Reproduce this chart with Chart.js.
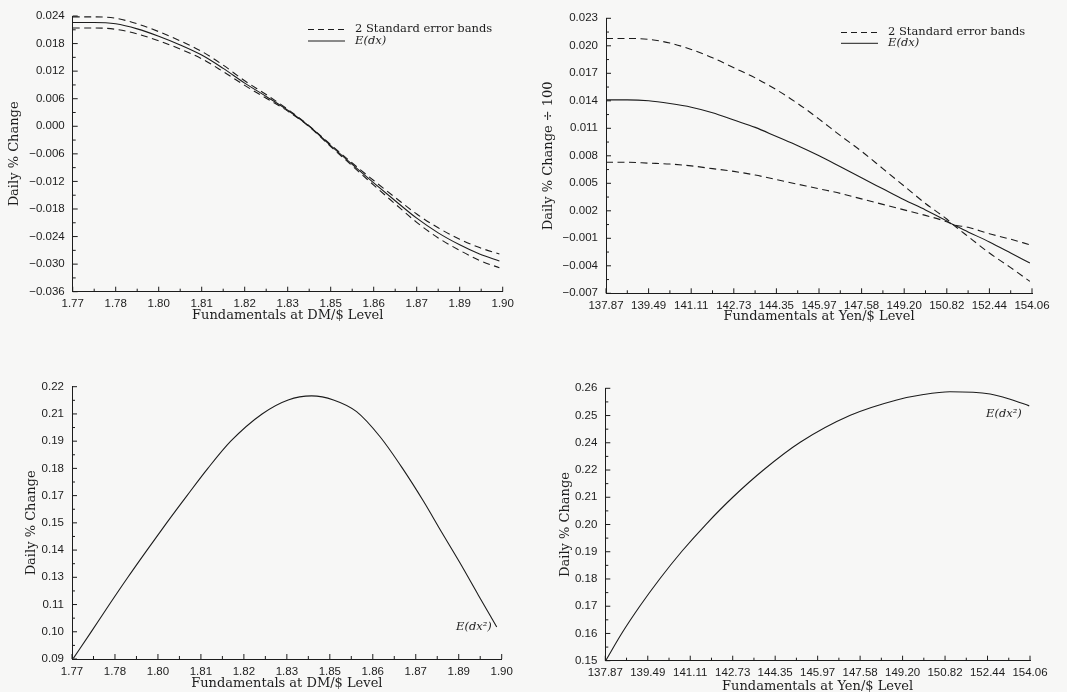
<!DOCTYPE html>
<html><head><meta charset="utf-8">
<script src="https://cdn.jsdelivr.net/npm/chart.js@4.4.0/dist/chart.umd.min.js"></script>
<style>
html,body{margin:0;padding:0;background:#f7f7f6;}
body{width:1067px;height:692px;position:relative;overflow:hidden;}
.p{position:absolute;}
</style></head><body>
<div class="p" id="w1" style="left:0;top:0;width:533px;height:332px"><canvas id="c1"></canvas></div>
<div class="p" id="w2" style="left:533px;top:0;width:534px;height:332px"><canvas id="c2"></canvas></div>
<div class="p" id="w3" style="left:0;top:346px;width:533px;height:350px"><canvas id="c3"></canvas></div>
<div class="p" id="w4" style="left:533px;top:346px;width:534px;height:350px"><canvas id="c4"></canvas></div>
<script>
// ---------- tick labels ----------
const dmTickLabels  = ['1.77','1.78','1.80','1.81','1.82','1.83','1.85','1.86','1.87','1.89','1.90'];
const yenTickLabels = ['137.87','139.49','141.11','142.73','144.35','145.97','147.58','149.20','150.82','152.44','154.06'];
const p1YLabels = ['\u22120.036','\u22120.030','\u22120.024','\u22120.018','\u22120.012','\u22120.006','0.000','0.006','0.012','0.018','0.024'];
const p2YLabels = ['\u22120.007','\u22120.004','\u22120.001','0.002','0.005','0.008','0.011','0.014','0.017','0.020','0.023'];
const p3YLabels = ['0.09','0.10','0.11','0.13','0.14','0.15','0.17','0.18','0.19','0.21','0.22'];
const p4YLabels = ['0.15','0.16','0.17','0.18','0.19','0.20','0.21','0.22','0.24','0.25','0.26'];

const dmRange = [1.77, 1.90];
const yenRange = [137.87, 154.06];
const p1Range = [-0.036, 0.024];
const p2Range = [-0.007, 0.023];
const p3Range = [0.09, 0.22];
const p4Range = [0.15, 0.26];

const xTitleDM = 'Fundamentals at DM/$ Level';
const xTitleYen = 'Fundamentals at Yen/$ Level';
const yTitle1 = 'Daily % Change';
const yTitle2 = 'Daily % Change \u00f7 100';
const legendLabels = ['2 Standard error bands', 'E(dx)'];
const curveLabel2 = 'E(dx\u00b2)';

// ---------- Panel 1: DM/$  E(dx) ----------
const dmLevels1 = [1.770,1.7765,1.783,1.7895,1.796,1.8025,1.809,1.8155,1.822,1.8285,1.835,1.8415,1.848,1.8545,1.861,1.8675,1.874,1.8805,1.887,1.893,1.899];
const dmMean1  = [0.0226,0.0226,0.0223,0.0212,0.0196,0.0177,0.0155,0.0126,0.0094,0.0065,0.0035,0.0000,-0.0042,-0.0083,-0.0123,-0.0162,-0.0200,-0.0232,-0.0258,-0.0278,-0.0293];
const dmUpper1 = [0.0238,0.0238,0.0235,0.0223,0.0206,0.0186,0.0163,0.0133,0.0099,0.0069,0.0037,0.0001,-0.0040,-0.0080,-0.0118,-0.0155,-0.0191,-0.0221,-0.0246,-0.0264,-0.0278];
const dmLower1 = [0.0214,0.0214,0.0211,0.0201,0.0186,0.0168,0.0147,0.0119,0.0089,0.0061,0.0033,-0.0001,-0.0044,-0.0086,-0.0128,-0.0169,-0.0209,-0.0243,-0.0270,-0.0292,-0.0308];

// ---------- Panel 2: Yen/$  E(dx) ----------
const yenLevels2 = [137.87,138.68,139.49,140.30,141.11,141.92,142.73,143.54,144.35,145.16,145.97,146.78,147.58,148.39,149.20,150.01,150.82,151.06,151.63,152.44,153.25,153.98];
const yenMean2  = [0.0141,0.0141,0.0140,0.0137,0.0133,0.0127,0.0119,0.0111,0.0101,0.0091,0.0080,0.0068,0.0056,0.0044,0.0032,0.0021,0.0009,0.0005,-0.0003,-0.0014,-0.0026,-0.0037];
const yenUpper2 = [0.0208,0.0208,0.0207,0.0203,0.0196,0.0187,0.0176,0.0165,0.0152,0.0137,0.0120,0.0102,0.0085,0.0066,0.0047,0.0028,0.0011,0.0005,-0.0008,-0.0026,-0.0042,-0.0057];
const yenLower2 = [0.0073,0.0073,0.0072,0.0071,0.0069,0.0066,0.0063,0.0059,0.0054,0.0049,0.0044,0.0039,0.0033,0.0027,0.0021,0.0015,0.0008,0.0005,0.0002,-0.0005,-0.0011,-0.0017];

// ---------- Panel 3: DM/$  E(dx^2) ----------
const dmLevels3 = [1.7704,1.7757,1.7812,1.7868,1.7927,1.7987,1.8048,1.8111,1.8181,1.8275,1.8354,1.8425,1.8491,1.8561,1.8632,1.8700,1.8763,1.8818,1.8874,1.8929,1.8985];
const dmVar3    = [0.0903,0.1027,0.1158,0.1288,0.1420,0.1551,0.1680,0.1810,0.1941,0.2070,0.2137,0.2156,0.2137,0.2081,0.1961,0.1810,0.1654,0.1506,0.1358,0.1206,0.1053];

// ---------- Panel 4: Yen/$  E(dx^2) ----------
const yenLevels4 = [137.90,138.50,139.19,139.95,140.79,141.72,142.75,143.91,145.30,147.21,148.98,150.00,151.01,152.54,153.30,154.03];
const yenVar4    = [0.1503,0.1611,0.1721,0.1831,0.1942,0.2052,0.2162,0.2271,0.2382,0.2491,0.2553,0.2575,0.2586,0.2577,0.2556,0.2529];

// ---------- styling ----------
const INK = '#1c1c1c';
const SANS = '"Liberation Sans", Arial, sans-serif';
const SERIF = '"DejaVu Serif", serif';
const TICK_SIZE = 11.5, TITLE_SIZE = 13, NOTE_SIZE = 11.5;

function pts(xs, ys){ return xs.map((x,i)=>({x:x, y:ys[i]})); }

const inTicks = {
  id: 'inTicks',
  afterDatasetsDraw(chart){
    const {ctx, chartArea:a, scales} = chart;
    const x = scales.x, y = scales.y;
    ctx.save();
    ctx.strokeStyle = INK; ctx.lineWidth = 1;
    ctx.beginPath();
    const xv = x.ticks.map(t=>t.value), yv = y.ticks.map(t=>t.value);
    xv.forEach((v,i)=>{
      const px = x.getPixelForValue(v);
      ctx.moveTo(px, a.bottom); ctx.lineTo(px, a.bottom-5);
      if (i < xv.length-1){
        const pm = x.getPixelForValue((v+xv[i+1])/2);
        ctx.moveTo(pm, a.bottom); ctx.lineTo(pm, a.bottom-3);
      }
    });
    yv.forEach((v,i)=>{
      const py = y.getPixelForValue(v);
      ctx.moveTo(a.left, py); ctx.lineTo(a.left+5, py);
      if (i < yv.length-1){
        const pm = y.getPixelForValue((v+yv[i+1])/2);
        ctx.moveTo(a.left, pm); ctx.lineTo(a.left+3, pm);
      }
    });
    ctx.stroke();
    ctx.restore();
  }
};

const textMarks = {
  id: 'textMarks',
  afterDraw(chart, args, opts){
    const ctx = chart.ctx;
    ctx.save();
    ctx.fillStyle = INK; ctx.strokeStyle = INK; ctx.lineWidth = 1;
    ctx.textBaseline = 'middle'; ctx.textAlign = 'left';
    if (opts.legend){
      const L = opts.legend;
      ctx.beginPath(); ctx.setLineDash([6,4]);
      ctx.moveTo(L.x0, L.y0); ctx.lineTo(L.x1, L.y0); ctx.stroke();
      ctx.setLineDash([]);
      ctx.beginPath(); ctx.moveTo(L.x0, L.y1); ctx.lineTo(L.x1, L.y1); ctx.stroke();
      ctx.font = NOTE_SIZE + 'px ' + SERIF;
      ctx.fillText(legendLabels[0], L.tx, L.y0);
      ctx.font = 'italic ' + NOTE_SIZE + 'px ' + SERIF;
      ctx.fillText(legendLabels[1], L.tx, L.y1);
    }
    if (opts.label){
      ctx.font = 'italic ' + NOTE_SIZE + 'px ' + SERIF;
      ctx.fillText(curveLabel2, opts.label.x, opts.label.y);
    }
    ctx.restore();
  }
};

function evenTicks(labels, range){
  return function(scale){
    const n = labels.length;
    scale.ticks = labels.map((l,i)=>({value: range[0] + i*(range[1]-range[0])/(n-1)}));
  };
}

function makeChart(id, cfg){
  const datasets = cfg.series.map(s=>({
    data: pts(s.x, s.y),
    borderColor: INK,
    borderWidth: 1.1,
    borderDash: s.dash ? [7,4.5] : [],
    pointRadius: 0,
    fill: false,
    cubicInterpolationMode: 'monotone'
  }));
  return new Chart(document.getElementById(id), {
    type: 'line',
    data: {datasets},
    plugins: [inTicks, textMarks],
    options: {
      responsive: true, maintainAspectRatio: false, animation: false,
      layout: {padding: cfg.pad},
      plugins: {legend:{display:false}, tooltip:{enabled:false},
                textMarks: cfg.marks},
      scales: {
        x: {
          type: 'linear', min: cfg.xr[0], max: cfg.xr[1],
          grid: {display:false, drawTicks:false},
          border: {display:true, color: INK, width: 1},
          afterBuildTicks: evenTicks(cfg.xl, cfg.xr),
          afterFit: s => { s.height = cfg.xh; },
          ticks: {autoSkip:false, maxRotation:0, padding:5.5, color: INK,
                  font:{family:SANS, size:TICK_SIZE}, callback:(v,i)=>cfg.xl[i]},
          title: {display:true, text: cfg.xt, color: INK, padding:{top:0,bottom:0},
                  font:{family:SERIF, size:TITLE_SIZE}}
        },
        y: {
          type: 'linear', min: cfg.yr[0], max: cfg.yr[1],
          grid: {display:false, drawTicks:false},
          border: {display:true, color: INK, width: 1},
          afterBuildTicks: evenTicks(cfg.yl, cfg.yr),
          afterFit: s => { s.width = cfg.yw; },
          ticks: {autoSkip:false, padding:8, color: INK,
                  font:{family:SANS, size:TICK_SIZE}, callback:(v,i)=>cfg.yl[i]},
          title: {display:true, text: cfg.ytt, color: INK, padding:{top:cfg.ytp,bottom:0},
                  font:{family:SERIF, size:TITLE_SIZE}}
        }
      }
    }
  });
}

makeChart('c1', {
  series: [{x:dmLevels1, y:dmUpper1, dash:true},{x:dmLevels1, y:dmLower1, dash:true},{x:dmLevels1, y:dmMean1}],
  xr: dmRange, yr: p1Range, xl: dmTickLabels, yl: p1YLabels, xt: xTitleDM, ytt: yTitle1,
  pad: {left:0, top:16, right:30.3, bottom:8.3}, xh: 32, yw: 72.7, ytp: 7.2,
  marks: {legend:{x0:308, x1:345, y0:29.5, y1:41, tx:355}}
});
makeChart('c2', {
  series: [{x:yenLevels2, y:yenUpper2, dash:true},{x:yenLevels2, y:yenLower2, dash:true},{x:yenLevels2, y:yenMean2}],
  xr: yenRange, yr: p2Range, xl: yenTickLabels, yl: p2YLabels, xt: xTitleYen, ytt: yTitle2,
  pad: {left:0, top:18.3, right:35, bottom:7.2}, xh: 31.5, yw: 73, ytp: 7.5,
  marks: {legend:{x0:308, x1:345, y0:32.5, y1:43.3, tx:355}}
});
makeChart('c3', {
  series: [{x:dmLevels3, y:dmVar3}],
  xr: dmRange, yr: p3Range, xl: dmTickLabels, yl: p3YLabels, xt: xTitleDM, ytt: yTitle1,
  pad: {left:0, top:40.7, right:31.3, bottom:4.3}, xh: 32.7, yw: 72, ytp: 24.2,
  marks: {label:{x:456, y:280.7}}
});
makeChart('c4', {
  series: [{x:yenLevels4, y:yenVar4}],
  xr: yenRange, yr: p4Range, xl: yenTickLabels, yl: p4YLabels, xt: xTitleYen, ytt: yTitle1,
  pad: {left:0, top:42.3, right:37, bottom:1.6}, xh: 33.7, yw: 72.3, ytp: 25.2,
  marks: {label:{x:453, y:68}}
});
</script>
</body></html>
